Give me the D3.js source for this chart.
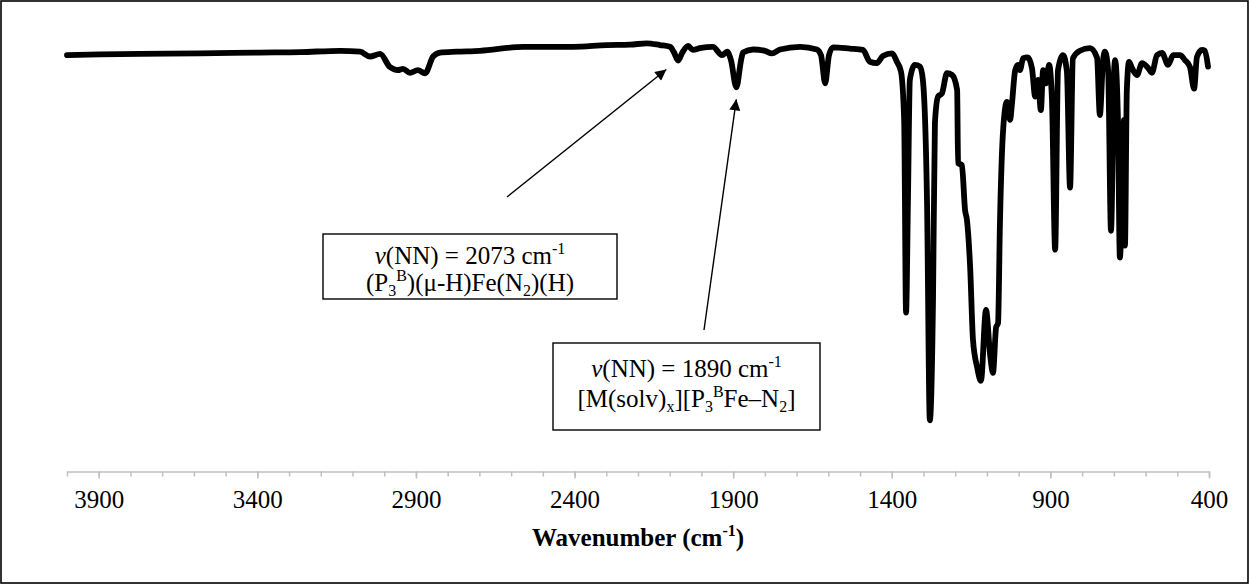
<!DOCTYPE html>
<html>
<head>
<meta charset="utf-8">
<script src="https://cdn.jsdelivr.net/npm/d3@7"></script>
<style>
  html, body { margin: 0; padding: 0; background: #fff; }
  svg { display: block; }
  text { font-family: "Liberation Serif", "Times New Roman", serif; fill: #000; }
</style>
</head>
<body>
<svg id="chart" width="1249" height="584"></svg>
<script>
// IR spectrum: wavenumber (cm-1) and relative transmittance (%)
const wavenumber = [
  4000, 3896, 3770, 3581, 3392, 3265, 3139, 3076, 3045, 3013,
  2982, 2957, 2941, 2919, 2894, 2871, 2846, 2824, 2771, 2698,
  2562, 2405, 2298, 2225, 2172, 2131, 2099, 2087, 2073, 2061,
  2042, 2027, 2005, 1964, 1935, 1919, 1907, 1890, 1875, 1869,
  1837, 1800, 1778, 1752, 1689, 1636, 1623, 1610, 1598, 1585,
  1532, 1491, 1469, 1447, 1428, 1399, 1384, 1371, 1361, 1355,
  1349, 1343, 1327, 1311, 1302, 1289, 1280, 1270, 1264, 1254,
  1242, 1226, 1210, 1194, 1191, 1179, 1169, 1163, 1153, 1144,
  1131, 1119, 1103, 1090, 1081, 1071, 1065, 1059, 1049, 1037,
  1027, 1021, 1011, 1002, 996, 986, 971, 958, 948, 939,
  930, 923, 914, 904, 895, 885, 876, 860, 848, 838,
  829, 807, 775, 753, 744, 734, 728, 718, 709, 699,
  696, 687, 681, 674, 668, 665, 659, 652, 643, 627,
  611, 592, 580, 564, 548, 529, 513, 491, 476, 460,
  447, 438, 422, 413, 403
];
const transmittance = [
  94.5, 94.7, 94.8, 94.9, 95.1, 95.2, 95.5, 95.3, 94.2, 94.8,
  91.8, 91.1, 91.4, 90.5, 91.1, 90.4, 94.2, 95.1, 95.3, 95.5,
  96.4, 96.4, 96.8, 96.9, 97.2, 96.8, 96.4, 95.2, 93.3, 95.0,
  96.6, 95.7, 96.1, 96.4, 94.5, 95.3, 93.4, 87.2, 93.4, 95.1,
  95.8, 95.5, 94.9, 95.8, 96.4, 95.8, 94.5, 88.1, 94.5, 96.3,
  96.0, 95.7, 93.0, 92.7, 94.3, 94.9, 93.0, 90.8, 79.8, 36.0,
  61.6, 88.9, 92.3, 91.9, 88.9, 61.6, 11.5, 38.9, 79.1, 85.1,
  85.8, 90.4, 90.0, 86.6, 70.0, 69.5, 59.3, 57.0, 46.4, 29.8,
  23.6, 20.5, 36.6, 26.4, 22.3, 32.7, 33.6, 56.4, 77.5, 83.9,
  79.8, 83.6, 91.1, 92.3, 91.1, 93.8, 94.0, 91.5, 85.1, 88.9,
  82.0, 91.1, 88.1, 92.3, 84.3, 50.3, 91.1, 94.5, 90.8, 64.4,
  93.8, 95.5, 96.1, 93.9, 80.9, 93.4, 95.3, 91.1, 54.6, 91.1,
  93.4, 79.8, 48.5, 61.6, 79.8, 51.2, 86.6, 93.0, 91.6, 90.0,
  92.7, 91.6, 90.5, 94.5, 95.0, 92.3, 94.5, 94.5, 93.4, 91.8,
  86.9, 94.1, 95.7, 95.5, 91.9
];

// axis ticks
const majorTicks = [3900, 3400, 2900, 2400, 1900, 1400, 900, 400];
const minorTicks = d3.range(4000, 399, -100);

// annotated N–N stretches
const nnPeaks = [2073, 1890];

const svg = d3.select("#chart");
const W = 1249, H = 584;

// chart border
svg.append("rect")
  .attr("x", 1).attr("y", 1)
  .attr("width", W - 2).attr("height", H - 2)
  .attr("fill", "#fff").attr("stroke", "#000").attr("stroke-width", 1.6);

const x = d3.scaleLinear().domain([4000, 400]).range([67, 1209]);
const y = d3.scaleLinear().domain([0, 100]).range([471, 31]);
const axisY = 471.5;

// minor ticks
const minorAxis = svg.append("g")
  .attr("transform", `translate(0,${axisY})`)
  .call(d3.axisBottom(x).tickValues(minorTicks).tickSize(5).tickSizeOuter(0).tickFormat(""));
// major ticks with labels
const majorAxis = svg.append("g")
  .attr("transform", `translate(0,${axisY})`)
  .call(d3.axisBottom(x).tickValues(majorTicks).tickSize(7).tickSizeOuter(0).tickFormat(d3.format("d")));

[minorAxis, majorAxis].forEach(g => {
  g.attr("font-family", null);
  g.select(".domain").attr("stroke", "#bfbfbf").attr("stroke-width", 1.5);
  g.selectAll(".tick line").attr("stroke", "#bfbfbf").attr("stroke-width", 1.5);
});
majorAxis.selectAll(".tick text")
  .attr("y", 36).attr("dy", 0)
  .style("font-family", "'Liberation Serif', 'Times New Roman', serif")
  .attr("font-size", 25).attr("fill", "#000");
minorAxis.select(".domain").remove();

// axis title
const title = svg.append("text")
  .attr("x", (x.range()[0] + x.range()[1]) / 2)
  .attr("y", 546)
  .attr("text-anchor", "middle")
  .attr("font-size", 25)
  .attr("font-weight", "bold");
title.append("tspan").text("Wavenumber (cm");
title.append("tspan").attr("font-size", 16).attr("dy", -10).text("-1");
title.append("tspan").attr("dy", 10).text(")");

// spectrum trace
const spectrum = wavenumber.map((w, i) => ({ w, t: transmittance[i] }));
svg.append("path")
  .datum(spectrum)
  .attr("fill", "none")
  .attr("stroke", "#000")
  .attr("stroke-width", 5.8)
  .attr("stroke-linejoin", "round")
  .attr("stroke-linecap", "round")
  .attr("d", d3.line().x(d => x(d.w)).y(d => y(d.t)).curve(d3.curveMonotoneX));

// rich text helper: parts are [text, kind] with kind in {"", "i", "sub", "sup"}
function richLine(g, cx, baseline, parts) {
  const t = g.append("text")
    .attr("x", cx).attr("y", baseline)
    .attr("text-anchor", "middle")
    .attr("font-size", 25);
  let shift = 0;
  parts.forEach(([s, kind]) => {
    let target = 0, size = 25, style = "normal";
    if (kind === "sup") { target = -10; size = 16; }
    if (kind === "sub") { target = 5; size = 16; }
    if (kind === "i") style = "italic";
    t.append("tspan")
      .attr("font-size", size)
      .attr("font-style", style)
      .attr("dy", target - shift)
      .text(s);
    shift = target;
  });
  return t;
}

const ann = svg.append("g");
const defs = svg.append("defs");
defs.append("marker")
  .attr("id", "head")
  .attr("viewBox", "0 0 10 10")
  .attr("refX", 10).attr("refY", 5)
  .attr("markerWidth", 15).attr("markerHeight", 11)
  .attr("markerUnits", "userSpaceOnUse")
  .attr("orient", "auto")
  .append("path").attr("d", "M0,0 L10,5 L0,10 Z").attr("fill", "#000");

// annotation layout: box rectangle, text baselines, arrow tail and tip offsets from the peak
const boxes = [
  { x0: 323, y0: 234, x1: 617, y1: 299, base1: 264, base2: 291, tail: [507, 197], dx: -12, dy: 9 },
  { x0: 553, y0: 343, x1: 820, y1: 430, base1: 377, base2: 407, tail: [704, 330], dx: 0, dy: 12 }
];

const speciesParts = [
  [["(P", ""], ["3", "sub"], ["B", "sup"], [")(μ-H)Fe(N", ""], ["2", "sub"], [")(H)", ""]],
  [["[M(solv)", ""], ["x", "sub"], ["][P", ""], ["3", "sub"], ["B", "sup"], ["Fe–N", ""], ["2", "sub"], ["]", ""]]
];

nnPeaks.forEach((p, i) => {
  const b = boxes[i];
  const idx = wavenumber.indexOf(p);
  const tipX = x(p) + b.dx;
  const tipY = y(transmittance[idx]) + b.dy;
  ann.append("line")
    .attr("x1", b.tail[0]).attr("y1", b.tail[1])
    .attr("x2", tipX).attr("y2", tipY)
    .attr("stroke", "#000").attr("stroke-width", 1.4)
    .attr("marker-end", "url(#head)");
  ann.append("rect")
    .attr("x", b.x0).attr("y", b.y0)
    .attr("width", b.x1 - b.x0).attr("height", b.y1 - b.y0)
    .attr("fill", "#fff").attr("stroke", "#000").attr("stroke-width", 1.4);
  const cx = (b.x0 + b.x1) / 2;
  richLine(ann, cx, b.base1, [["v", "i"], [`(NN) = ${p} cm`, ""], ["-1", "sup"]]);
  richLine(ann, cx, b.base2, speciesParts[i]);
});
</script>
</body>
</html>
